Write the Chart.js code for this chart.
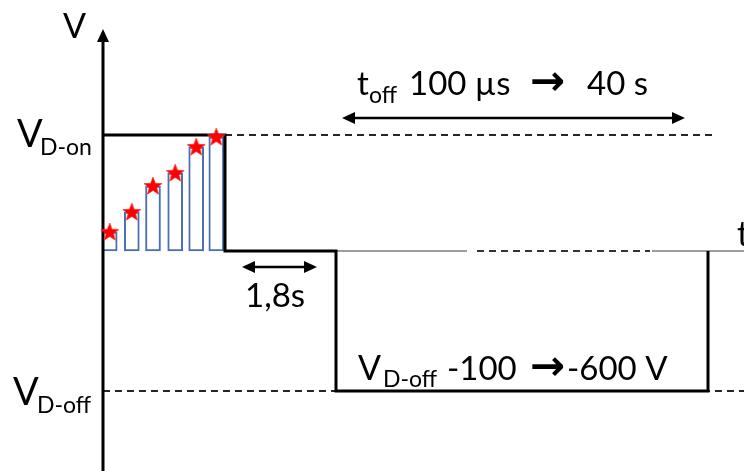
<!DOCTYPE html>
<html>
<head>
<meta charset="utf-8">
<script src="https://cdn.jsdelivr.net/npm/chart.js@4.4.1/dist/chart.umd.min.js"></script>
<style>
  html, body { margin: 0; padding: 0; background: #fff; }
  #wrap { width: 744px; height: 471px; }
</style>
</head>
<body>
<div id="wrap"><canvas id="chart" width="744" height="471"></canvas></div>
<script>
// time axis in arbitrary units (0 = V axis), voltage in arbitrary units (0 = t axis)
const V_ON = 116;
const V_OFF = -140;
const ON_END = 122;     // end of the V_D-on staircase
const OFF_START = 233;  // start of the V_D-off pulse
const OFF_END = 605;    // end of the V_D-off pulse

// staircase steps (bars + red stars)
const stepTimes = [6.7, 28.8, 50, 72.2, 93.2, 113.3];
const stepValues = [19, 39, 65, 78, 104, 114];

// dashed guide lines / axis extents
const X_MIN = -103, X_MAX = 641;
const Y_MIN = -220, Y_MAX = 251;
const V_AXIS_TOP = 222;
const onGuide = [ON_END, 612];
const offGuide = [0, X_MAX];
const zeroSolid = [[OFF_START, 364], [549, X_MAX]];
const zeroDashed = [374, 547];

// double arrows: [from, to, level]
const toffArrow = [239, 582, 133];
const restArrow = [139, 214, -16];

const pt = (x, y) => ({ x: x, y: y });

// arrow head image, tip in the centre, pointing right
function makeHead() {
  const c = document.createElement("canvas");
  c.width = 30; c.height = 30;
  const g = c.getContext("2d");
  g.fillStyle = "#000";
  g.beginPath();
  g.moveTo(15, 15);
  g.lineTo(2, 9);
  g.lineTo(2, 21);
  g.closePath();
  g.fill();
  return c;
}

function makeStar() {
  const c = document.createElement("canvas");
  c.width = 22; c.height = 22;
  const g = c.getContext("2d");
  g.fillStyle = "#ff0000";
  g.strokeStyle = "rgba(255,40,40,0.6)";
  g.lineWidth = 1;
  g.beginPath();
  for (let i = 0; i < 10; i++) {
    const r = i % 2 === 0 ? 9.5 : 4;
    const a = -Math.PI / 2 + i * Math.PI / 5;
    const px = 11 + r * Math.cos(a), py = 11.5 + r * Math.sin(a);
    if (i === 0) g.moveTo(px, py); else g.lineTo(px, py);
  }
  g.closePath();
  g.fill();
  g.stroke();
  return c;
}

const head = makeHead();
const star = makeStar();

function lineSet(data, opts) {
  return Object.assign({
    type: "scatter",
    data: data,
    showLine: true,
    borderColor: "#000",
    borderWidth: 3,
    pointRadius: 0,
    tension: 0,
    fill: false,
    order: 2,
  }, opts || {});
}

function headSet(data, rotation) {
  return {
    type: "scatter",
    data: data,
    pointStyle: head,
    pointRotation: rotation,
    pointRadius: 10,
    order: 0,
  };
}

const MAIN = "Lato, 'Open Sans', sans-serif";

function txt(ctx, s, x, y, size, opts) {
  opts = opts || {};
  ctx.font = (opts.weight || "") + " " + size + "px " + (opts.family || MAIN);
  ctx.fillStyle = "#000";
  ctx.textAlign = "left";
  ctx.textBaseline = opts.baseline || "alphabetic";
  ctx.fillText(s, x, y);
}

const labelsPlugin = {
  id: "labels",
  afterDraw(chart) {
    const ctx = chart.ctx;
    const sx = chart.scales.x, sy = chart.scales.y;
    const ox = sx.getPixelForValue(0), oy = sy.getPixelForValue(0);
    const arrowFont = "'DejaVu Sans', sans-serif";
    ctx.save();
    // axis names
    txt(ctx, "V", ox - 40, oy - 213, 34);
    txt(ctx, "t", ox + 634, oy - 5, 34);
    // level labels
    txt(ctx, "V", ox - 86, sy.getPixelForValue(V_ON) + 12, 38);
    txt(ctx, "D-on", ox - 63, sy.getPixelForValue(V_ON) + 20, 23);
    txt(ctx, "V", ox - 90, sy.getPixelForValue(V_OFF) + 14, 38);
    txt(ctx, "D-off", ox - 66, sy.getPixelForValue(V_OFF) + 22, 23);
    // t_off annotation
    const ty = oy - 156;
    txt(ctx, "t", ox + 254, ty, 33);
    txt(ctx, "off", ox + 266, ty + 8, 23);
    txt(ctx, "100 \u00b5s", ox + 306, ty, 33);
    txt(ctx, "\u2192", ox + 427, ty - 11, 42, { weight: "bold", family: arrowFont, baseline: "middle" });
    txt(ctx, "40 s", ox + 484, ty, 33);
    // rest time
    txt(ctx, "1,8s", ox + 142, oy + 56, 33);
    // V_D-off annotation
    const by = sy.getPixelForValue(V_OFF) - 11;
    txt(ctx, "V", ox + 255, by, 34);
    txt(ctx, "D-off", ox + 280, by + 7, 23);
    txt(ctx, "-100", ox + 344, by, 33);
    txt(ctx, "\u2192", ox + 427, by - 11, 42, { weight: "bold", family: arrowFont, baseline: "middle" });
    txt(ctx, "-600 V", ox + 464, by, 33);
    ctx.restore();
  },
};

const datasets = [
  // dashed guides
  lineSet([pt(onGuide[0], V_ON), pt(onGuide[1], V_ON)], { borderWidth: 2, borderColor: "#262626", borderDash: [7, 5], order: 6 }),
  lineSet([pt(offGuide[0], V_OFF), pt(offGuide[1], V_OFF)], { borderWidth: 2, borderColor: "#262626", borderDash: [7, 5], order: 6 }),
  lineSet([pt(zeroDashed[0], 0), pt(zeroDashed[1], 0)], { borderWidth: 2, borderColor: "#333", borderDash: [7, 5], order: 6 }),
  lineSet([pt(zeroSolid[0][0], 0), pt(zeroSolid[0][1], 0), pt(zeroSolid[0][1] + 1, null), pt(zeroSolid[1][0], 0), pt(zeroSolid[1][1], 0)],
    { borderWidth: 1.5, borderColor: "#7f7f7f", order: 6 }),
  // staircase bars
  {
    type: "bar",
    data: stepTimes.map((t, i) => pt(t, stepValues[i])),
    backgroundColor: "#ffffff",
    borderColor: "#4a6fb3",
    borderWidth: 2,
    borderSkipped: false,
    barThickness: 15,
    order: 5,
  },
  // drain voltage signal
  lineSet([pt(0, V_ON), pt(ON_END, V_ON), pt(ON_END, 0), pt(OFF_START, 0), pt(OFF_START, V_OFF),
    pt(OFF_END, V_OFF), pt(OFF_END, 0)], { order: 3 }),
  // V axis
  lineSet([pt(0, Y_MIN), pt(0, V_AXIS_TOP - 8)], { order: 3 }),
  headSet([pt(0, V_AXIS_TOP)], -90),
  // double arrows
  lineSet([pt(toffArrow[0] + 6, toffArrow[2]), pt(toffArrow[1] - 6, toffArrow[2])], { borderWidth: 2.5, order: 1 }),
  lineSet([pt(restArrow[0] + 6, restArrow[2]), pt(restArrow[1] - 6, restArrow[2])], { borderWidth: 2.5, order: 1 }),
  headSet([pt(toffArrow[1], toffArrow[2]), pt(restArrow[1], restArrow[2])], 0),
  headSet([pt(toffArrow[0], toffArrow[2]), pt(restArrow[0], restArrow[2])], 180),
  // red stars on each step
  {
    type: "scatter",
    data: stepTimes.map((t, i) => pt(t, stepValues[i])),
    pointStyle: star,
    pointRadius: 10,
    order: 0,
  },
];

new Chart(document.getElementById("chart"), {
  type: "scatter",
  data: { datasets: datasets },
  options: {
    responsive: false,
    animation: false,
    layout: { padding: 0, autoPadding: false },
    plugins: { legend: { display: false }, tooltip: { enabled: false } },
    elements: { point: { radius: 0 } },
    scales: {
      x: { type: "linear", min: X_MIN, max: X_MAX, offset: false, display: false },
      y: { type: "linear", min: Y_MIN, max: Y_MAX, display: false },
    },
  },
  plugins: [labelsPlugin],
});
</script>
</body>
</html>
